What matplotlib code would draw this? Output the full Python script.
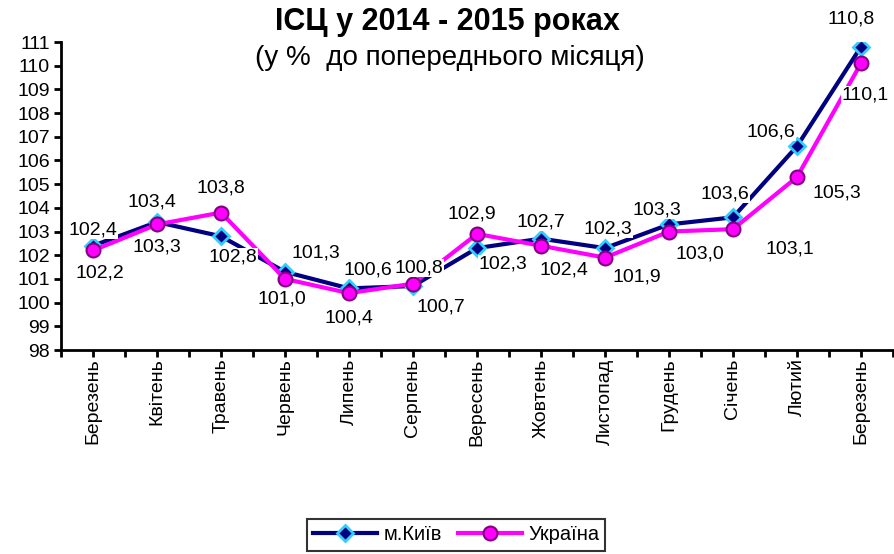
import numpy as np
import matplotlib
matplotlib.use('Agg')
import matplotlib.pyplot as plt

plt.rcParams['font.family'] = ['Liberation Sans', 'DejaVu Sans']

months = ['Березень', 'Квітень', 'Травень', 'Червень', 'Липень', 'Серпень',
          'Вересень', 'Жовтень', 'Листопад', 'Грудень', 'Січень', 'Лютий',
          'Березень']
kyiv = [102.4, 103.4, 102.8, 101.3, 100.6, 100.7, 102.3, 102.7, 102.3,
        103.3, 103.6, 106.6, 110.8]
ukraine = [102.2, 103.3, 103.8, 101.0, 100.4, 100.8, 102.9, 102.4, 101.9,
           103.0, 103.1, 105.3, 110.1]

# label offsets in pixels (dx, dy), tuned by eye
kyiv_off = [(0, 16), (-5, 20), (12, -21), (31, 19), (19, 18), (28, -21),
            (26, -16), (0, 17), (3, 19), (-12, 14), (-8, 23), (-26, 14),
            (-10, 28)]
ukr_off = [(7, -23), (0, -23), (0, 25), (-3, -20), (0, -25), (6, 16),
           (-5, 20), (23, -24), (32, -19), (31, -22), (57, -20), (40, -16),
           (4, -32)]

fig = plt.figure(figsize=(8.94, 5.54), dpi=100)
ax = fig.add_axes([61/894, 1 - 350/554, 832/894, 308/554])

x = np.arange(len(months))
ax.plot(x, kyiv, color='#000080', lw=3, marker='D', ms=8.5,
        mfc='#000080', mec='#33CCFF', mew=2, label='м.Київ', zorder=3)
ax.plot(x, ukraine, color='#FF00FF', lw=3, marker='o', ms=10,
        mfc='#FF00FF', mec='#800080', mew=1.5, label='Україна', zorder=4)

def fmt(v):
    return ('%.1f' % v).replace('.', ',')

for xi, v, off in zip(x, kyiv, kyiv_off):
    ax.annotate(fmt(v), (xi, v), xytext=off, textcoords='offset pixels',
                ha='center', va='center', fontsize=14, zorder=5,
                bbox=dict(boxstyle='square,pad=0.02', fc='white', ec='none'))
for xi, v, off in zip(x, ukraine, ukr_off):
    ax.annotate(fmt(v), (xi, v), xytext=off, textcoords='offset pixels',
                ha='center', va='center', fontsize=14, zorder=5,
                bbox=dict(boxstyle='square,pad=0.02', fc='white', ec='none'))

ax.set_xlim(-0.5, len(months) - 0.5)
ax.set_ylim(98, 111)
ax.set_yticks(np.arange(98, 112, 1))
ax.set_xticks(x)
ax.set_xticklabels(months, rotation=90, fontsize=14)
ax.set_xticks(np.arange(-0.5, len(months), 1), minor=True)
ax.tick_params(axis='both', which='both', direction='out', length=5,
               width=2, pad=3)
ax.tick_params(axis='y', labelsize=14)
ax.tick_params(axis='x', pad=1)
for s in ['top', 'right']:
    ax.spines[s].set_visible(False)
for s in ['left', 'bottom']:
    ax.spines[s].set_linewidth(2)

fig.text(447/894, 1 - 22/554, 'ІСЦ у 2014 - 2015 роках', ha='center',
         va='center', fontsize=22, fontweight='bold')
fig.text(450/894, 1 - 58/554, '(у %  до попереднього місяця)',
         ha='center', va='center', fontsize=20)

leg = fig.legend(loc='center', bbox_to_anchor=(456/894, 1 - 535/554),
                 ncol=2, fontsize=14.5, frameon=True, fancybox=False,
                 handlelength=3.2, columnspacing=0.8, borderpad=0.3,
                 handletextpad=0.3)
leg.get_frame().set_edgecolor('black')
leg.get_frame().set_linewidth(1.5)

fig.savefig('out.png', dpi=100)
